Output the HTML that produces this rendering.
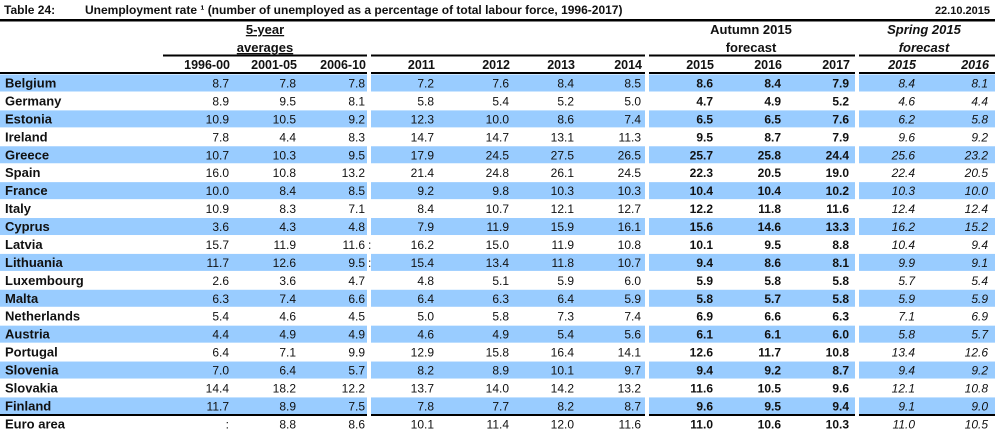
<!DOCTYPE html>
<html><head><meta charset="utf-8"><style>
html,body{margin:0;padding:0;background:#fff;}
svg{display:block;font-family:"Liberation Sans",Arial,sans-serif;}
</style></head><body>
<svg width="995" height="431" viewBox="0 0 995 431" xmlns="http://www.w3.org/2000/svg">
<g font-weight="bold" font-size="12" fill="#111">
<text x="4" y="14">Table 24:</text>
<text x="85" y="14">Unemployment rate ¹ (number of unemployed as a percentage of total labour force, 1996-2017)</text>
<text x="990" y="14" text-anchor="end" font-size="11">22.10.2015</text>
</g>
<rect x="0" y="19" width="995" height="2.5" fill="#000"/>
<g id="bands" fill="#99ccff"></g>
<g fill="#000">
<rect x="163" y="54.5" width="204" height="2"/><rect x="371" y="54.5" width="274" height="2"/><rect x="649" y="54.5" width="206" height="2"/><rect x="859" y="54.5" width="136" height="2"/>
<rect x="0" y="72" width="367" height="2"/><rect x="371" y="72" width="274" height="2"/><rect x="649" y="72" width="206" height="2"/><rect x="859" y="72" width="136" height="2"/>
<rect x="0" y="414" width="367" height="2"/><rect x="371" y="414" width="274" height="2"/><rect x="649" y="414" width="206" height="2"/><rect x="859" y="414" width="136" height="2"/>
</g>
<g font-size="13" fill="#111" text-anchor="middle">
<text x="265" y="34" font-weight="bold" text-decoration="underline">5-year</text>
<text x="265" y="52" font-weight="bold" text-decoration="underline">averages</text>
<text x="751" y="34" font-weight="bold">Autumn 2015</text>
<text x="751" y="52" font-weight="bold">forecast</text>
<text x="924" y="34" font-weight="bold" font-style="italic">Spring 2015</text>
<text x="924" y="52" font-weight="bold" font-style="italic">forecast</text>
</g>
<g id="hdr" font-size="12.5" font-weight="bold" fill="#111" text-anchor="end"></g>
<g id="body" fill="#111"></g>
<script>
var xs=[229,296,365,434,509,574,641,713,781,849,915,988];
var hd=["1996-00","2001-05","2006-10","2011","2012","2013","2014","2015","2016","2017","2015","2016"];
var ns="http://www.w3.org/2000/svg";
function t(p,x,y,s,a){var e=document.createElementNS(ns,"text");e.setAttribute("x",x);e.setAttribute("y",y);for(var k in a)e.setAttribute(k,a[k]);e.textContent=s;p.appendChild(e);}
var H=document.getElementById("hdr");
hd.forEach(function(h,i){t(H,xs[i]+1,69,h,i>=10?{"font-style":"italic"}:{});});
var rows=[
["Belgium","8.7","7.8","7.8","7.2","7.6","8.4","8.5","8.6","8.4","7.9","8.4","8.1"],
["Germany","8.9","9.5","8.1","5.8","5.4","5.2","5.0","4.7","4.9","5.2","4.6","4.4"],
["Estonia","10.9","10.5","9.2","12.3","10.0","8.6","7.4","6.5","6.5","7.6","6.2","5.8"],
["Ireland","7.8","4.4","8.3","14.7","14.7","13.1","11.3","9.5","8.7","7.9","9.6","9.2"],
["Greece","10.7","10.3","9.5","17.9","24.5","27.5","26.5","25.7","25.8","24.4","25.6","23.2"],
["Spain","16.0","10.8","13.2","21.4","24.8","26.1","24.5","22.3","20.5","19.0","22.4","20.5"],
["France","10.0","8.4","8.5","9.2","9.8","10.3","10.3","10.4","10.4","10.2","10.3","10.0"],
["Italy","10.9","8.3","7.1","8.4","10.7","12.1","12.7","12.2","11.8","11.6","12.4","12.4"],
["Cyprus","3.6","4.3","4.8","7.9","11.9","15.9","16.1","15.6","14.6","13.3","16.2","15.2"],
["Latvia","15.7","11.9","11.6","16.2","15.0","11.9","10.8","10.1","9.5","8.8","10.4","9.4"],
["Lithuania","11.7","12.6","9.5","15.4","13.4","11.8","10.7","9.4","8.6","8.1","9.9","9.1"],
["Luxembourg","2.6","3.6","4.7","4.8","5.1","5.9","6.0","5.9","5.8","5.8","5.7","5.4"],
["Malta","6.3","7.4","6.6","6.4","6.3","6.4","5.9","5.8","5.7","5.8","5.9","5.9"],
["Netherlands","5.4","4.6","4.5","5.0","5.8","7.3","7.4","6.9","6.6","6.3","7.1","6.9"],
["Austria","4.4","4.9","4.9","4.6","4.9","5.4","5.6","6.1","6.1","6.0","5.8","5.7"],
["Portugal","6.4","7.1","9.9","12.9","15.8","16.4","14.1","12.6","11.7","10.8","13.4","12.6"],
["Slovenia","7.0","6.4","5.7","8.2","8.9","10.1","9.7","9.4","9.2","8.7","9.4","9.2"],
["Slovakia","14.4","18.2","12.2","13.7","14.0","14.2","13.2","11.6","10.5","9.6","12.1","10.8"],
["Finland","11.7","8.9","7.5","7.8","7.7","8.2","8.7","9.6","9.5","9.4","9.1","9.0"],
["Euro area",":","8.8","8.6","10.1","11.4","12.0","11.6","11.0","10.6","10.3","11.0","10.5"]];
var B=document.getElementById("bands"),G=document.getElementById("body");
var segs=[[0,367],[371,645],[649,855],[859,995]];
rows.forEach(function(r,i){
 var top=74+i*17.94, by=top+13.5;
 if(i%2==0&&i<19){segs.forEach(function(s){var e=document.createElementNS(ns,"rect");e.setAttribute("x",s[0]);e.setAttribute("y",top+0.5);e.setAttribute("width",s[1]-s[0]);e.setAttribute("height",17);B.appendChild(e);});}
 t(G,5,by,r[0],{"font-size":"13","font-weight":"bold"});
 for(var j=1;j<=12;j++){var a={"font-size":"12","text-anchor":"end"};
  if(j>=8&&j<=10)a["font-weight"]="bold";if(j>=11)a["font-style"]="italic";
  t(G,xs[j-1],by,r[j],a);}
 if(i==9||i==10)t(G,368,by,":",{"font-size":"12"});
});
</script>
</svg>
</body></html>
